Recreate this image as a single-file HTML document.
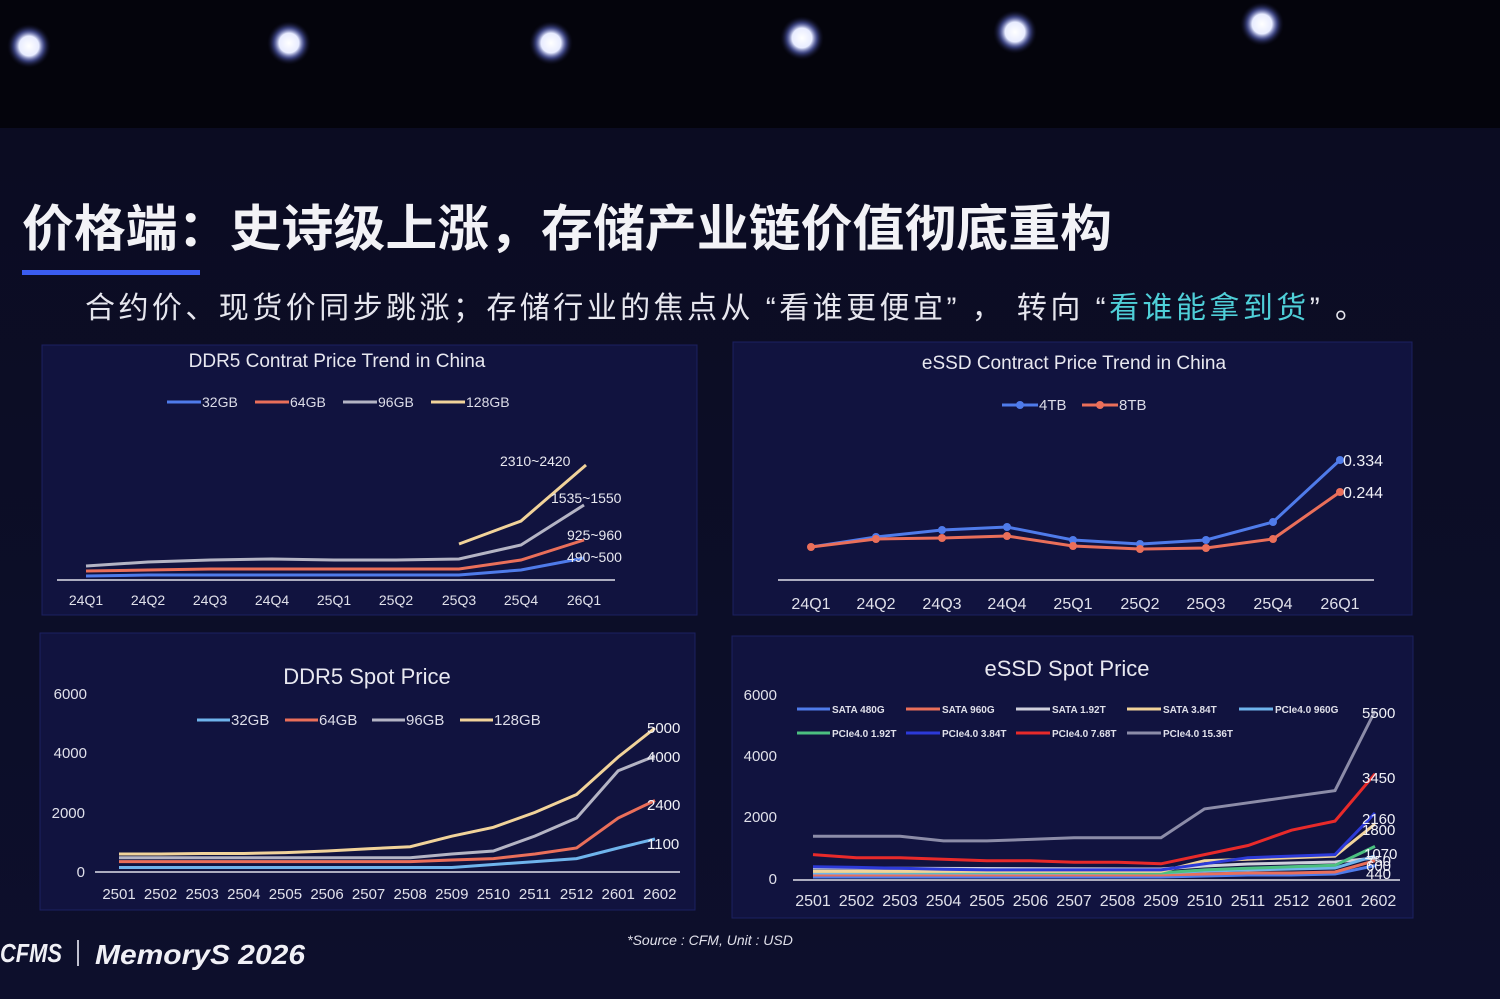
<!DOCTYPE html>
<html><head><meta charset="utf-8"><style>
html,body{margin:0;padding:0;background:#05050f;}
svg{display:block;}
text{font-family:"Liberation Sans","Noto Sans CJK SC",sans-serif;}
</style></head><body>
<svg width="1500" height="999" viewBox="0 0 1500 999" xmlns="http://www.w3.org/2000/svg">
<defs>
<radialGradient id="glow"><stop offset="0" stop-color="#fff"/><stop offset="0.45" stop-color="#e8ecff"/><stop offset="0.7" stop-color="#6a78e0" stop-opacity="0.5"/><stop offset="1" stop-color="#101030" stop-opacity="0"/></radialGradient>
<linearGradient id="bg" x1="0" y1="0" x2="0" y2="1"><stop offset="0" stop-color="#0b0c22"/><stop offset="1" stop-color="#0d0f2c"/></linearGradient>
</defs>
<rect width="1500" height="999" fill="#04040c"/>
<rect x="0" y="128" width="1500" height="871" fill="url(#bg)"/>
<g fill="url(#glow)">
<circle cx="29" cy="46" r="22"/><circle cx="289" cy="43" r="22"/><circle cx="551" cy="43" r="22"/>
<circle cx="802" cy="38" r="22"/><circle cx="1015" cy="32" r="22"/><circle cx="1262" cy="24" r="22"/>
</g>
<text x="22" y="246" font-size="50" font-weight="bold" fill="#f2f2f6" textLength="1090" lengthAdjust="spacingAndGlyphs">价格端：史诗级上涨，存储产业链价值彻底重构</text>
<rect x="22" y="270" width="178" height="5" fill="#3a5cf0"/>
<text x="85" y="318" font-size="30" fill="#e6e6ee" textLength="1280" lengthAdjust="spacing">合约价、现货价同步跳涨；存储行业的焦点从  “看谁更便宜” ， 转向  “<tspan fill="#4fcfd8">看谁能拿到货</tspan>” 。</text>

<g fill="#11133f" stroke="#1c2060" stroke-width="1">
<rect x="42" y="345" width="655" height="270"/>
<rect x="733" y="342" width="679" height="273"/>
<rect x="40" y="633" width="655" height="277"/>
<rect x="732" y="636" width="681" height="282"/>
</g>

<text x="337" y="367" font-size="19" fill="#e8e8f0" text-anchor="middle">DDR5 Contrat Price Trend in China</text>
<g font-size="14" fill="#dcdce8">
<line x1="167" y1="402" x2="201" y2="402" stroke="#4f7bea" stroke-width="3"/><text x="202" y="407">32GB</text>
<line x1="255" y1="402" x2="289" y2="402" stroke="#ea6f5a" stroke-width="3"/><text x="290" y="407">64GB</text>
<line x1="343" y1="402" x2="377" y2="402" stroke="#b4b4c4" stroke-width="3"/><text x="378" y="407">96GB</text>
<line x1="431" y1="402" x2="465" y2="402" stroke="#f1d39a" stroke-width="3"/><text x="466" y="407">128GB</text>
</g>
<line x1="57" y1="580" x2="615" y2="580" stroke="#e0e0ea" stroke-width="1.5"/>
<g font-size="14" fill="#e0e0ea" text-anchor="middle">
<text x="86" y="605">24Q1</text><text x="148" y="605">24Q2</text><text x="210" y="605">24Q3</text><text x="272" y="605">24Q4</text><text x="334" y="605">25Q1</text><text x="396" y="605">25Q2</text><text x="459" y="605">25Q3</text><text x="521" y="605">25Q4</text><text x="584" y="605">26Q1</text>
</g>
<g fill="none" stroke-width="3">
<polyline stroke="#4f7bea" points="86,576 148,575 210,575 272,575 334,575 396,575 459,575 521,570 584,558"/>
<polyline stroke="#ea6f5a" points="86,571 148,570 210,569 272,569 334,569 396,569 459,569 521,560 584,540"/>
<polyline stroke="#b4b4c4" points="86,566 148,562 210,560 272,559 334,560 396,560 459,559 521,545 584,505"/>
<polyline stroke="#f1d39a" points="459,544 521,521 586,465"/>
</g>
<g font-size="14" fill="#e8e8f0">
<text x="500" y="466">2310~2420</text><text x="551" y="503">1535~1550</text><text x="567" y="540">925~960</text><text x="567" y="562">490~500</text>
</g>

<text x="1074" y="369" font-size="19" fill="#e8e8f0" text-anchor="middle">eSSD Contract Price Trend in China</text>
<g font-size="15" fill="#dcdce8">
<line x1="1002" y1="405" x2="1038" y2="405" stroke="#4f7bea" stroke-width="3"/><circle cx="1020" cy="405" r="4" fill="#4f7bea"/><text x="1039" y="410">4TB</text>
<line x1="1082" y1="405" x2="1118" y2="405" stroke="#ea6f5a" stroke-width="3"/><circle cx="1100" cy="405" r="4" fill="#ea6f5a"/><text x="1119" y="410">8TB</text>
</g>
<line x1="778" y1="580" x2="1374" y2="580" stroke="#e0e0ea" stroke-width="1.5"/>
<g font-size="16" fill="#e0e0ea" text-anchor="middle">
<text x="811" y="609">24Q1</text><text x="876" y="609">24Q2</text><text x="942" y="609">24Q3</text><text x="1007" y="609">24Q4</text><text x="1073" y="609">25Q1</text><text x="1140" y="609">25Q2</text><text x="1206" y="609">25Q3</text><text x="1273" y="609">25Q4</text><text x="1340" y="609">26Q1</text>
</g>
<polyline fill="none" stroke="#4f7bea" stroke-width="3" points="811,547 876,537 942,530 1007,527 1073,540 1140,544 1206,540 1273,522 1340,460"/>
<polyline fill="none" stroke="#ea6f5a" stroke-width="3" points="811,547 876,539 942,538 1007,536 1073,546 1140,549 1206,548 1273,539 1340,492"/>
<g fill="#4f7bea"><circle cx="876" cy="537" r="4"/><circle cx="942" cy="530" r="4"/><circle cx="1007" cy="527" r="4"/><circle cx="1073" cy="540" r="4"/><circle cx="1140" cy="544" r="4"/><circle cx="1206" cy="540" r="4"/><circle cx="1273" cy="522" r="4"/><circle cx="1340" cy="460" r="4"/></g>
<g fill="#ea6f5a"><circle cx="811" cy="547" r="4"/><circle cx="876" cy="539" r="4"/><circle cx="942" cy="538" r="4"/><circle cx="1007" cy="536" r="4"/><circle cx="1073" cy="546" r="4"/><circle cx="1140" cy="549" r="4"/><circle cx="1206" cy="548" r="4"/><circle cx="1273" cy="539" r="4"/><circle cx="1340" cy="492" r="4"/></g>
<g font-size="16" fill="#f0f0f6"><text x="1343" y="466">0.334</text><text x="1343" y="498">0.244</text></g>

<text x="367" y="684" font-size="22" fill="#e8e8f0" text-anchor="middle">DDR5 Spot Price</text>
<g font-size="15" fill="#e0e0ea" text-anchor="end">
<text x="87" y="699">6000</text><text x="87" y="758">4000</text><text x="85" y="818">2000</text><text x="85" y="877">0</text>
</g>
<g font-size="15" fill="#dcdce8">
<line x1="197" y1="720" x2="230" y2="720" stroke="#6fb4ec" stroke-width="3"/><text x="231" y="725">32GB</text>
<line x1="285" y1="720" x2="318" y2="720" stroke="#ea6f5a" stroke-width="3"/><text x="319" y="725">64GB</text>
<line x1="372" y1="720" x2="405" y2="720" stroke="#b4b4c4" stroke-width="3"/><text x="406" y="725">96GB</text>
<line x1="460" y1="720" x2="493" y2="720" stroke="#f1d39a" stroke-width="3"/><text x="494" y="725">128GB</text>
</g>
<line x1="95" y1="872" x2="680" y2="872" stroke="#e0e0ea" stroke-width="1.5"/>
<g font-size="15" fill="#e0e0ea" text-anchor="middle">
<text x="119" y="899">2501</text><text x="160.6" y="899">2502</text><text x="202.2" y="899">2503</text><text x="243.8" y="899">2504</text><text x="285.4" y="899">2505</text><text x="327" y="899">2506</text><text x="368.6" y="899">2507</text><text x="410.2" y="899">2508</text><text x="451.8" y="899">2509</text><text x="493.4" y="899">2510</text><text x="535" y="899">2511</text><text x="576.6" y="899">2512</text><text x="618.2" y="899">2601</text><text x="659.8" y="899">2602</text>
</g>
<g fill="none" stroke-width="3">
<polyline stroke="#6fb4ec" points="119,867.5 160.6,867.5 202.2,867.5 243.8,867.5 285.4,867.5 327,867.5 368.6,867.5 410.2,867.5 451.8,867.5 493.4,864.5 535,861.6 576.6,858.6 618.2,848 655,839"/>
<polyline stroke="#ea6f5a" points="119,861.6 160.6,861.6 202.2,861.6 243.8,861.6 285.4,861.6 327,861.6 368.6,861.6 410.2,861.6 451.8,860 493.4,858.6 535,854 576.6,848 618.2,818 655,800.5"/>
<polyline stroke="#b4b4c4" points="119,857.7 160.6,857.7 202.2,857.7 243.8,857.7 285.4,857.7 327,857.7 368.6,857.7 410.2,857.7 451.8,854 493.4,851 535,836 576.6,818 618.2,770.7 655,756"/>
<polyline stroke="#f1d39a" points="119,854 160.6,854 202.2,853.5 243.8,853.5 285.4,852.6 327,851 368.6,848.8 410.2,846.7 451.8,836.2 493.4,827.3 535,812.4 576.6,794.5 618.2,757 655,728"/>
</g>
<g font-size="15" fill="#f0f0f6"><text x="647" y="733">5000</text><text x="647" y="762">4000</text><text x="647" y="810">2400</text><text x="647" y="849">1100</text></g>

<text x="1067" y="676" font-size="22" fill="#e8e8f0" text-anchor="middle">eSSD Spot Price</text>
<g font-size="15" fill="#e0e0ea" text-anchor="end">
<text x="777" y="700">6000</text><text x="777" y="761">4000</text><text x="777" y="822">2000</text><text x="777" y="884">0</text>
</g>
<g font-size="10" fill="#e0e0ea" font-weight="bold">
<line x1="797" y1="709" x2="830" y2="709" stroke="#4f7bea" stroke-width="3"/><text x="832" y="713">SATA 480G</text>
<line x1="906" y1="709" x2="940" y2="709" stroke="#ea6f5a" stroke-width="3"/><text x="942" y="713">SATA 960G</text>
<line x1="1016" y1="709" x2="1050" y2="709" stroke="#d0d0dc" stroke-width="3"/><text x="1052" y="713">SATA 1.92T</text>
<line x1="1127" y1="709" x2="1161" y2="709" stroke="#f1d39a" stroke-width="3"/><text x="1163" y="713">SATA 3.84T</text>
<line x1="1239" y1="709" x2="1273" y2="709" stroke="#6fb4ec" stroke-width="3"/><text x="1275" y="713">PCIe4.0 960G</text>
<line x1="797" y1="733" x2="830" y2="733" stroke="#4cc080" stroke-width="3"/><text x="832" y="737">PCIe4.0 1.92T</text>
<line x1="906" y1="733" x2="940" y2="733" stroke="#2c3ad8" stroke-width="3"/><text x="942" y="737">PCIe4.0 3.84T</text>
<line x1="1016" y1="733" x2="1050" y2="733" stroke="#e82a2a" stroke-width="3"/><text x="1052" y="737">PCIe4.0 7.68T</text>
<line x1="1127" y1="733" x2="1161" y2="733" stroke="#8c8ca8" stroke-width="3"/><text x="1163" y="737">PCIe4.0 15.36T</text>
</g>
<line x1="793" y1="880" x2="1400" y2="880" stroke="#e0e0ea" stroke-width="1.5"/>
<g font-size="16" fill="#e0e0ea" text-anchor="middle">
<text x="813" y="906">2501</text><text x="856.5" y="906">2502</text><text x="900" y="906">2503</text><text x="943.5" y="906">2504</text><text x="987" y="906">2505</text><text x="1030.5" y="906">2506</text><text x="1074" y="906">2507</text><text x="1117.5" y="906">2508</text><text x="1161" y="906">2509</text><text x="1204.5" y="906">2510</text><text x="1248" y="906">2511</text><text x="1291.5" y="906">2512</text><text x="1335" y="906">2601</text><text x="1378.5" y="906">2602</text>
</g>
<g fill="none" stroke-width="3">
<polyline stroke="#4f7bea" points="813,877 1161,877 1204.5,876 1248,875 1291.5,875 1335,874 1375,865.6"/>
<polyline stroke="#ea6f5a" points="813,875 1161,875 1204.5,874 1248,873 1291.5,873 1335,872 1375,860.7"/>
<polyline stroke="#d0d0dc" points="813,868 1161,869 1204.5,866 1248,864 1291.5,863 1335,862 1375,858"/>
<polyline stroke="#6fb4ec" points="813,873 1161,873 1204.5,871 1248,870 1291.5,869 1335,868 1375,856"/>
<polyline stroke="#4cc080" points="813,871.4 1161,872.9 1204.5,869.9 1248,868.3 1291.5,866.8 1335,865.3 1375,846.4"/>
<polyline stroke="#f1d39a" points="813,871.4 1161,871.4 1204.5,860.7 1248,859.2 1291.5,857.7 1335,856.1 1375,824"/>
<polyline stroke="#2c3ad8" points="813,866.8 856.5,867.4 900,868.3 943.5,869.2 987,869.9 1161,869.9 1204.5,863.8 1248,857.7 1291.5,856.1 1335,854.6 1375,813"/>
<polyline stroke="#e82a2a" points="813,854.6 856.5,857.7 900,857.7 943.5,859.2 987,860.7 1030.5,860.7 1074,862.2 1117.5,862.2 1161,863.8 1204.5,854.6 1248,845.5 1291.5,830.2 1335,821.1 1375,773.8"/>
<polyline stroke="#8c8ca8" points="813,836.3 856.5,836.3 900,836.3 943.5,840.9 987,840.9 1030.5,839.4 1074,837.8 1117.5,837.8 1161,837.8 1204.5,808.9 1248,802.8 1291.5,796.7 1335,790.6 1375,711"/>
</g>
<g font-size="15" fill="#f0f0f6">
<text x="1362" y="718">5500</text><text x="1362" y="783">3450</text><text x="1362" y="824">2160</text><text x="1362" y="835">1800</text><text x="1364" y="859">1070</text><text x="1366" y="866">750</text><text x="1366" y="871">600</text><text x="1366" y="879">440</text>
</g>

<text x="710" y="945" font-size="14" font-style="italic" fill="#e0e0ea" text-anchor="middle">*Source : CFM, Unit : USD</text>
<text x="0" y="962" font-size="26" font-weight="bold" font-style="italic" fill="#f0f0f6" textLength="62" lengthAdjust="spacingAndGlyphs">CFMS</text>
<rect x="77" y="940" width="2" height="26" fill="#c0c0d0"/>
<text x="95" y="964" font-size="28" font-weight="bold" font-style="italic" fill="#f0f0f6" textLength="210" lengthAdjust="spacingAndGlyphs">MemoryS 2026</text>
</svg>
</body></html>
